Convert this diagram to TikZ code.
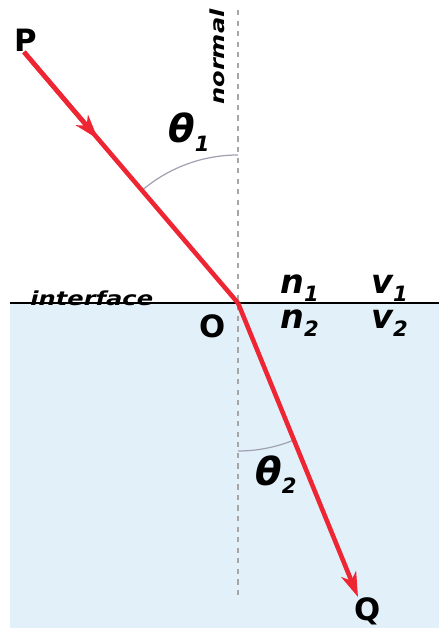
\documentclass[tikz,border=0pt]{standalone}
\usepackage{fontspec}
\setmainfont{DejaVu Sans}
\usepackage{tikz}
\usetikzlibrary{arrows.meta}

\definecolor{rayred}{RGB}{238,38,52}
\definecolor{waterblue}{RGB}{226,241,249}
\definecolor{arcgrey}{RGB}{160,162,178}

\newcommand{\sub}[1]{\raisebox{-5pt}{\fontsize{12}{13}\selectfont #1}}
\newcommand{\wide}[1]{\scalebox{1.25}[1]{#1}}

\begin{document}
\begin{tikzpicture}[
		x=0.02cm, y=-0.02cm,
		lbl/.style={font=\bfseries\fontsize{17.5}{19}\selectfont, inner sep=0pt, anchor=base west},
		sym/.style={font=\bfseries\itshape\fontsize{19}{21}\selectfont, inner sep=0pt, anchor=base west},
		small/.style={font=\bfseries\itshape\fontsize{11}{13}\selectfont, inner sep=0pt},
		ray/.style={rayred, line width=2.6pt},
		tip/.style={-{Stealth[length=14pt, width=9pt, inset=4pt]}},
		angarc/.style={arcgrey, line width=0.7pt}
	]
	\useasboundingbox (0,0) rectangle (439,628);

	% media
	\fill[waterblue] (10,303) rectangle (439,628);
	\coordinate (O) at (238,303);
	\coordinate (ifl) at (10,303);
	\coordinate (ifr) at (439,303);
	\draw[line width=1pt] (ifl) -- (ifr);

	% normal
	\coordinate (ntop) at (238,10);
	\coordinate (nbot) at (238,600);
	\draw[gray!70, line width=1pt, dash pattern=on 3pt off 3pt] (ntop) -- (nbot);

	% angles
	\draw[angarc] (238,155) arc[start angle=-90, end angle=-130.6, radius=148];
	\draw[angarc] (238,451) arc[start angle=90, end angle=67.9, radius=148];

	% rays
	\coordinate (P) at (24,52);
	\coordinate (mid) at (98,139);
	\coordinate (Q) at (358,597);
	\draw[ray] (P) -- (O);
	\draw[ray, tip] (P) -- (mid);
	\draw[ray, tip] (O) -- (Q);

	% labels
	\node[lbl] (lP) at (14,52) {P};
	\node[lbl] (lO) at (199,337) {O};
	\node[lbl] (lQ) at (354,620) {Q};
	\node[small, rotate=90] (lnormal) at (217,57) {\wide{normal}};
	\node[small, anchor=base west] (linterface) at (30,305) {\wide{interface}};
	\node[sym, font=\bfseries\itshape\fontsize{22}{24}\selectfont] (th1) at (168,143) {θ\sub{1}};
	\node[sym, font=\bfseries\itshape\fontsize{22}{24}\selectfont] (th2) at (255,485) {θ\sub{2}};
	\node[sym] (n1) at (280,293) {n\sub{1}};
	\node[sym] (v1) at (371,293) {v\sub{1}};
	\node[sym] (n2) at (280,328) {n\sub{2}};
	\node[sym] (v2) at (371,328) {v\sub{2}};
\end{tikzpicture}
\end{document}
